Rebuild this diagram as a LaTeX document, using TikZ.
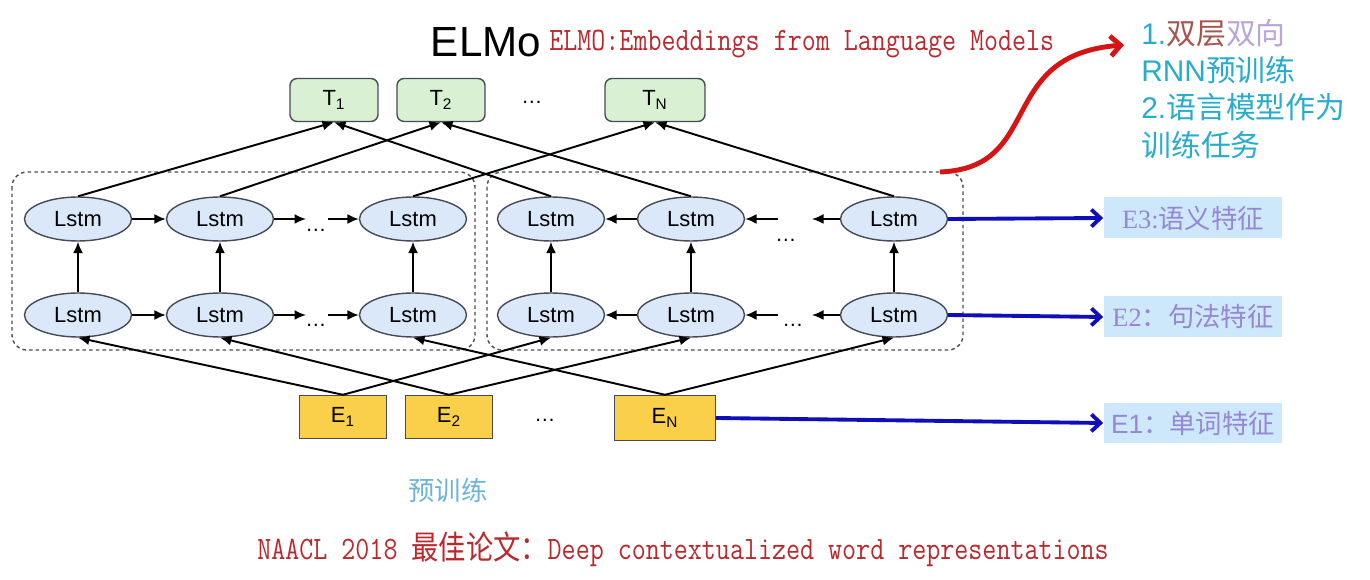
\documentclass[tikz,border=0pt]{standalone}
\usepackage{fontspec}
\setmainfont{Liberation Sans}
\newfontfamily\cjk{Noto Sans CJK SC}
\newfontfamily\serifa{Liberation Serif}
\usepackage{xcolor}
\definecolor{azulC}{RGB}{218,232,250}
\definecolor{cinza}{RGB}{70,75,85}
\definecolor{verdeC}{RGB}{217,240,210}
\definecolor{amarelo}{RGB}{250,208,75}
\definecolor{vermelho}{RGB}{185,40,45}
\definecolor{vermelhoV}{RGB}{215,20,20}
\definecolor{azulE}{RGB}{15,15,185}
\definecolor{ciano}{RGB}{40,172,205}
\definecolor{celeste}{RGB}{205,232,250}
\definecolor{roxo}{RGB}{150,135,212}
\definecolor{marrom}{RGB}{165,85,80}
\definecolor{lilas}{RGB}{185,165,215}
\definecolor{azulT}{RGB}{110,178,215}
\usetikzlibrary{arrows.meta,shapes.geometric,positioning}

\begin{document}
\begin{tikzpicture}[x=0.02cm,y=-0.02cm,
            celula/.style={ellipse,draw=cinza,fill=azulC,line width=0.8pt,
              minimum width=2.14cm,minimum height=0.88cm,inner sep=0pt,
            font=\fontsize{12.5}{15}\selectfont},
            saida/.style={draw=cinza,fill=verdeC,rounded corners=4pt,line width=0.8pt,
              minimum width=1.76cm,minimum height=0.86cm,
            font=\fontsize{12.5}{15}\selectfont},
            entrada/.style={draw=cinza,fill=amarelo,line width=0.8pt,
              minimum width=1.74cm,minimum height=0.86cm,
            font=\fontsize{12.5}{15}\selectfont},
            grupo/.style={draw=cinza,line width=0.8pt,dash pattern=on 2pt off 1.8pt,
            rounded corners=0.3cm},
            pontos/.style={font=\fontsize{12}{14}\selectfont},
            rotulo/.style={fill=celeste,minimum width=3.58cm,minimum height=0.82cm,
            text=roxo,font=\fontsize{15}{18}\selectfont},
            vermelhotxt/.style={text=vermelho,inner sep=0pt,
            font=\fontsize{15.5}{18}\selectfont\ttfamily},
            seta/.style={-{Latex[length=2.3mm,width=2mm]},line width=1.1pt},
            setaazul/.style={-{Straight Barb[length=1.8mm,width=3.4mm]},azulE,line width=2.2pt},
            setavermelha/.style={-{Straight Barb[length=2mm,width=4mm]},vermelhoV,line width=2.8pt}
            ]
            \useasboundingbox (0,0) rectangle (1370,580);

            \node[font=\fontsize{24}{28}\selectfont] (elmo) at (486,42) {ELMo};
            \node[vermelhotxt,anchor=west] (titulo) at (549,44)
            {\scalebox{1}[1.2]{ELMO:Embeddings from Language Models}};

            \node[saida]                      (t1) at (334,100) {T\textsubscript{1}};
            \node[saida]                      (t2) at (441,100) {T\textsubscript{2}};
            \node[pontos]                     (tp) at (532,102) {\ldots};
            \node[saida,minimum width=2cm]    (tn) at (655,100) {T\textsubscript{N}};

            \draw[grupo] (12,172) rectangle (475,350);
            \draw[grupo] (487,172) rectangle (963,350);

            \node[celula] (lt1) at (78,219)  {Lstm};
            \node[celula] (lt2) at (220,219) {Lstm};
            \node[celula] (lt3) at (413,219) {Lstm};
            \node[celula] (rt1) at (551,219) {Lstm};
            \node[celula] (rt2) at (691,219) {Lstm};
            \node[celula] (rt3) at (894,219) {Lstm};
            \node[celula] (lb1) at (78,315)  {Lstm};
            \node[celula] (lb2) at (220,315) {Lstm};
            \node[celula] (lb3) at (413,315) {Lstm};
            \node[celula] (rb1) at (551,315) {Lstm};
            \node[celula] (rb2) at (691,315) {Lstm};
            \node[celula] (rb3) at (894,315) {Lstm};

            \node[pontos] (plt) at (316,230) {\ldots};
            \node[pontos] (plb) at (316,325) {\ldots};
            \node[pontos] (prt) at (786,240) {\ldots};
            \node[pontos] (prb) at (793,325) {\ldots};

            \coordinate (alt1) at (306,219);
            \coordinate (alt2) at (328,219);
            \coordinate (alb1) at (306,315);
            \coordinate (alb2) at (328,315);
            \coordinate (art1) at (778,219);
            \coordinate (art2) at (812,219);
            \coordinate (arb1) at (778,315);
            \coordinate (arb2) at (812,315);

            \node[entrada]                    (e1) at (343,417) {E\textsubscript{1}};
            \node[entrada]                    (e2) at (449,417) {E\textsubscript{2}};
            \node[pontos]                     (ep) at (545,420) {\ldots};
            \node[entrada,minimum width=2.02cm,
            minimum height=0.9cm]             (en) at (665,418) {E\textsubscript{N}};

            \node[rotulo] (r3) at (1193,218) {{\serifa E3:}{\cjk 语义特征}};
            \node[rotulo] (r2) at (1193,317) {{\serifa E2}{\cjk ：句法特征}};
            \node[rotulo] (r1) at (1193,423) {E1{\cjk ：单词特征}};

            \node[text=ciano,anchor=north west,inner sep=0pt,align=left,
            font=\fontsize{17}{21.2}\selectfont] (notas) at (1141,19)
            {1.{\cjk\color{marrom}双层}{\cjk\color{lilas}双向}\\
              RNN{\cjk 预训练}\\
              2.{\cjk 语言模型作为}\\
            {\cjk 训练任务}};

            \node[text=azulT,font=\cjk\fontsize{15}{18}\selectfont] (pre) at (448,490) {预训练};
            \node[vermelhotxt] (artigo) at (683,549)
            {\scalebox{1}[1.2]{NAACL 2018 {\cjk 最佳论文：}Deep contextualized word representations}};

            \draw[seta] (lt1)--(lt2);
            \draw[seta] (lt2)--(alt1);
            \draw[seta] (alt2)--(lt3);
            \draw[seta] (lb1)--(lb2);
            \draw[seta] (lb2)--(alb1);
            \draw[seta] (alb2)--(lb3);
            \draw[seta] (rt2)--(rt1);
            \draw[seta] (art1)--(rt2);
            \draw[seta] (rt3)--(art2);
            \draw[seta] (rb2)--(rb1);
            \draw[seta] (arb1)--(rb2);
            \draw[seta] (rb3)--(arb2);

            \draw[seta] (lb1)--(lt1);
            \draw[seta] (lb2)--(lt2);
            \draw[seta] (lb3)--(lt3);
            \draw[seta] (rb1)--(rt1);
            \draw[seta] (rb2)--(rt2);
            \draw[seta] (rb3)--(rt3);

            \draw[seta] (lt1.north)--(t1.south);
            \draw[seta] (rt1.north)--(t1.south);
            \draw[seta] (lt2.north)--(t2.south);
            \draw[seta] (rt2.north)--(t2.south);
            \draw[seta] (lt3.north)--(tn.south);
            \draw[seta] (rt3.north)--(tn.south);

            \draw[seta] (e1.north)--(lb1.south);
            \draw[seta] (e1.north)--(rb1.south);
            \draw[seta] (e2.north)--(lb2.south);
            \draw[seta] (e2.north)--(rb2.south);
            \draw[seta] (en.north)--(lb3.south);
            \draw[seta] (en.north)--(rb3.south);

            \draw[setaazul] (rt3.east)--(r3.west);
            \draw[setaazul] (rb3.east)--(r2.west);
            \draw[setaazul] (en.east)--(r1.west);

            \coordinate (ini) at (940,172);
            \coordinate (fim) at (1124,45);
            \draw[setavermelha] (ini) .. controls (1045,168) and (995,55) .. (fim);
          \end{tikzpicture}
\end{document}
